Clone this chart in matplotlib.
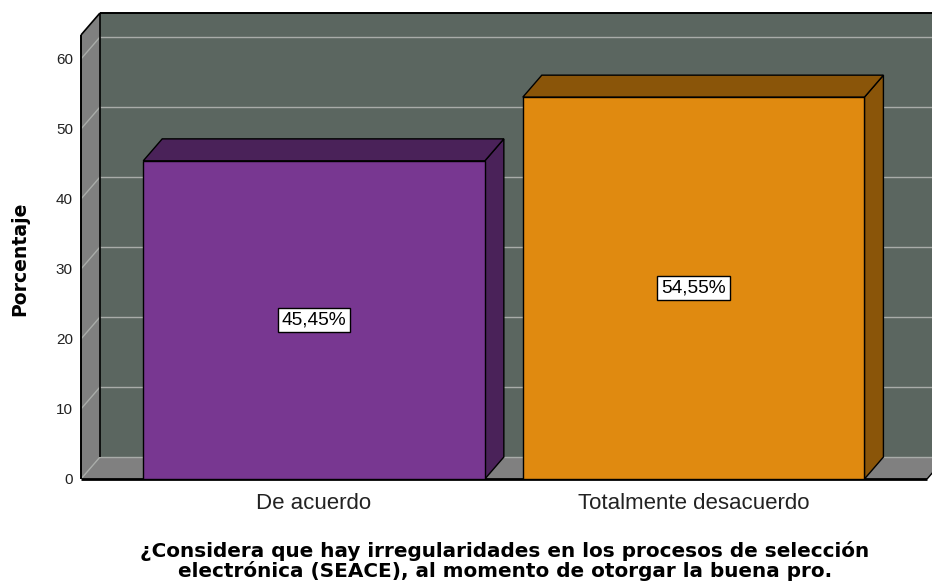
import matplotlib
matplotlib.use('Agg')
import matplotlib.pyplot as plt
from matplotlib.patches import Polygon, Rectangle

# datos
categorias = ['De acuerdo', 'Totalmente desacuerdo']
porcentajes = [45.45, 54.55]
etiquetas = ['45,45%', '54,55%']
yticks = [0, 10, 20, 30, 40, 50, 60]

# colores (frente, lados)
col_frente = ['#783791', '#e08a10']
col_lado = ['#4a2259', '#8a5509']
col_fondo = '#5b6660'
col_pared = '#808080'
col_grid = '#a9aca9'

# geometria del efecto 3D
xmin, xmax = -0.614, 1.628
x_suelo = 1.615
ytop = 63.43
dx, dy = 0.050, 3.14
ancho = 0.9

fig = plt.figure(figsize=(9.32, 5.86), dpi=100)
ax = fig.add_axes([81 / 932, 1 - 479 / 586, 1 - 81 / 932, (479 - 13) / 586])
ax.set_xlim(xmin, xmax)
ax.set_ylim(0, ytop + dy)

# pared del fondo, pared izquierda y suelo
ax.add_patch(Rectangle((xmin + dx, dy), xmax - xmin + 1, ytop, facecolor=col_fondo, edgecolor='none', zorder=0))
ax.add_patch(Polygon([(xmin, 0), (xmin, ytop), (xmin + dx, ytop + dy), (xmin + dx, dy)],
                     closed=True, facecolor=col_pared, edgecolor='none', zorder=0))
ax.add_patch(Polygon([(xmin, 0), (x_suelo, 0), (x_suelo + dx, dy), (xmin + dx, dy)],
                     closed=True, facecolor=col_pared, edgecolor='none', zorder=0))

# lineas de cuadricula
for t in yticks:
    ax.plot([xmin + dx, xmax + 1], [t + dy, t + dy], color=col_grid, lw=1.0, zorder=1)
    ax.plot([xmin, xmin + dx], [t, t + dy], color=col_grid, lw=1.0, zorder=1)

# bordes
kw = dict(color='black', zorder=2, clip_on=False, solid_capstyle='butt')
ax.plot([xmin + dx, xmin + dx], [dy, ytop + dy], lw=1.2, **kw)
ax.plot([xmin + dx, xmax], [ytop + dy, ytop + dy], lw=1.4, **kw)
ax.plot([xmin, xmin], [0, ytop], lw=1.4, **kw)
ax.plot([xmin, xmin + dx], [ytop, ytop + dy], lw=1.2, **kw)
ax.plot([x_suelo, x_suelo + dx], [0, dy], lw=1.0, **kw)
ax.plot([xmin, x_suelo], [0, 0], lw=2.0, **kw)

# barras
xs = list(range(len(categorias)))
for x, v, cf, cl in zip(xs, porcentajes, col_frente, col_lado):
    izq, der = x - ancho / 2, x + ancho / 2
    ax.add_patch(Polygon([(der, 0), (der + dx, dy), (der + dx, v + dy), (der, v)],
                         closed=True, facecolor=cl, edgecolor='black', lw=1.0, zorder=3))
    ax.add_patch(Polygon([(izq, v), (der, v), (der + dx, v + dy), (izq + dx, v + dy)],
                         closed=True, facecolor=cl, edgecolor='black', lw=1.0, zorder=3))
ax.bar(xs, porcentajes, width=ancho, color=col_frente, edgecolor='black', lw=1.0, zorder=4)

for x, v, et in zip(xs, porcentajes, etiquetas):
    ax.text(x, v / 2, et, ha='center', va='center', fontsize=13.8, family='Liberation Sans', zorder=5,
            bbox=dict(boxstyle='square,pad=0.2', facecolor='white', edgecolor='black', lw=1.0))

# ejes
for s in ax.spines.values():
    s.set_visible(False)
ax.set_yticks(yticks)
ax.set_yticklabels([str(t) for t in yticks], fontsize=11, family='Liberation Sans', color='#222222')
ax.set_xticks(xs)
ax.set_xticklabels(categorias, fontsize=16, family='Liberation Sans', color='#222222')
ax.tick_params(axis='y', length=0, pad=5.8)
ax.tick_params(axis='x', length=0, pad=10)

fig.text(20 / 932, 1 - 259 / 586, 'Porcentaje', rotation=90, ha='center', va='center',
         fontsize=13.6, fontweight='bold', family='DejaVu Sans')
fig.text(505 / 932, 1 - 561 / 586,
         '¿Considera que hay irregularidades en los procesos de selección\n'
         'electrónica (SEACE), al momento de otorgar la buena pro.',
         ha='center', va='center', fontsize=14.4, fontweight='bold', family='DejaVu Sans', linespacing=1.0)

fig.savefig('out.png', dpi=100)
